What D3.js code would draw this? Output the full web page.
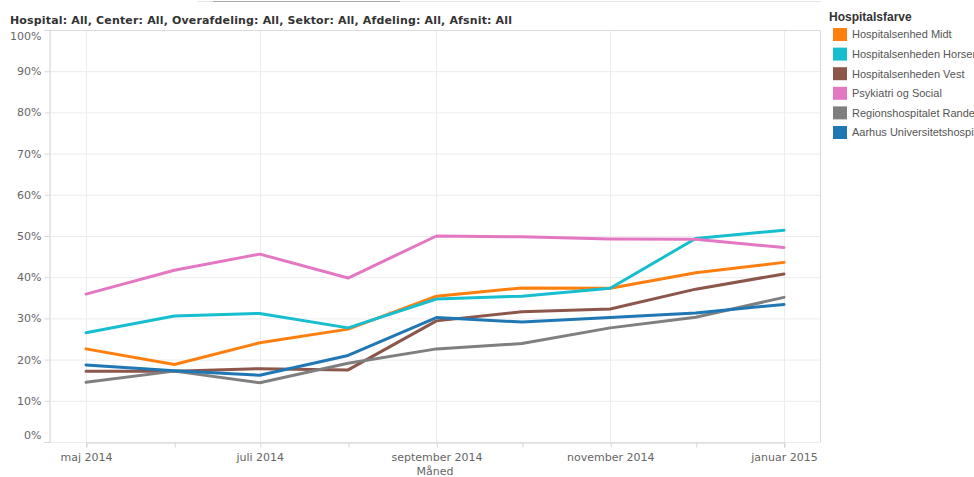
<!DOCTYPE html>
<html>
<head>
<meta charset="utf-8">
<script src="https://cdn.jsdelivr.net/npm/d3@7"></script>
<style>
  body { margin: 0; background: #fff; }
  svg { display: block; }
</style>
</head>
<body>
<div id="chart"></div>
<script>
// months shown on the x axis (first of each month)
var months = ["2014-05-01", "2014-06-01", "2014-07-01", "2014-08-01", "2014-09-01", "2014-10-01", "2014-11-01", "2014-12-01", "2015-01-01"];
var danishMonths = ["januar", "februar", "marts", "april", "maj", "juni", "juli", "august", "september", "oktober", "november", "december"];

var seriesNames = ["Hospitalsenhed Midt", "Hospitalsenheden Horsens", "Hospitalsenheden Vest", "Psykiatri og Social", "Regionshospitalet Randers", "Aarhus Universitetshospital"];
var seriesColors = ["#ff7f0e", "#17becf", "#8c564b", "#e377c2", "#7f7f7f", "#1f77b4"];

// percentages per month
var midt    = [22.6, 18.8, 24.1, 27.4, 35.4, 37.4, 37.3, 41.1, 43.6];
var horsens = [26.5, 30.6, 31.2, 27.7, 34.7, 35.4, 37.3, 49.4, 51.4];
var vest    = [17.2, 17.2, 17.8, 17.5, 29.4, 31.6, 32.3, 37.1, 40.8];
var psyk    = [35.9, 41.7, 45.6, 39.8, 50.0, 49.8, 49.3, 49.2, 47.2];
var randers = [14.5, 17.2, 14.4, 19.1, 22.6, 23.9, 27.7, 30.3, 35.1];
var aarhus  = [18.7, 17.3, 16.2, 21.0, 30.2, 29.1, 30.2, 31.3, 33.4];

var yTicks = [0, 10, 20, 30, 40, 50, 60, 70, 80, 90, 100];

var seriesValues = [midt, horsens, vest, psyk, randers, aarhus];
var parseDate = d3.timeParse("%Y-%m-%d");
var dates = months.map(parseDate);

var W = 974, H = 477;
var margin = {top: 30, left: 49};
var width = 821 - margin.left;
var height = 442 - margin.top;

var svg = d3.select("#chart").append("svg").attr("width", W).attr("height", H);

// faint remnants of the dashboard bar at the very top
svg.append("line").attr("x1", 198).attr("x2", 821).attr("y1", 1.5).attr("y2", 1.5).attr("stroke", "#e4e4e4").attr("stroke-width", 1);
svg.append("line").attr("x1", 213).attr("x2", 400).attr("y1", 1.5).attr("y2", 1.5).attr("stroke", "#aaa").attr("stroke-width", 1);

svg.append("text").attr("x", 10).attr("y", 24)
    .style("font-family", "'DejaVu Sans', sans-serif").style("font-size", "11px").style("font-weight", "bold")
    .attr("fill", "#333").attr("textLength", 502).attr("lengthAdjust", "spacing")
    .text("Hospital: All, Center: All, Overafdeling: All, Sektor: All, Afdeling: All, Afsnit: All");

var x = d3.scaleTime().domain([dates[0], dates[dates.length - 1]]).range([37, 735]);
var y = d3.scaleLinear().domain([0, 100]).range([height, 0]);

var g = svg.append("g").attr("transform", `translate(${margin.left},${margin.top})`);

// horizontal gridlines
g.selectAll(".hgrid").data(yTicks).enter().append("line")
    .attr("x1", 0).attr("x2", width).attr("y1", d => y(d) + 0.5).attr("y2", d => y(d) + 0.5)
    .attr("stroke", "#ececec");

// vertical gridlines at labelled months
g.selectAll(".vgrid").data(dates.filter((d, i) => i % 2 == 0)).enter().append("line")
    .attr("x1", d => Math.round(x(d)) + 0.5).attr("x2", d => Math.round(x(d)) + 0.5).attr("y1", 0).attr("y2", height)
    .attr("stroke", "#ececec");

// pane border top/right
g.append("path").attr("d", `M0,0.5H${width - 0.5}V${height}`).attr("fill", "none").attr("stroke", "#dadada");

var yAxis = g.append("g").attr("transform", "translate(0.5,0)")
    .call(d3.axisLeft(y).tickValues(yTicks).tickSize(5).tickPadding(3).tickFormat(d => d + "%"));
var xAxis = g.append("g").attr("transform", `translate(0,${height + 0.5})`)
    .call(d3.axisBottom(x).tickValues(dates).tickSize(5).tickPadding(6)
        .tickFormat((d, i) => i % 2 == 0 ? danishMonths[d.getMonth()] + " " + d.getFullYear() : ""));

[yAxis, xAxis].forEach(a => {
    a.select(".domain").attr("stroke", "#d0d0d0");
    a.selectAll(".tick line").attr("stroke", "#d8d8d8");
    a.selectAll("text").attr("fill", "#666").style("font-family", "'DejaVu Sans', sans-serif").style("font-size", "11px");
});
xAxis.selectAll(".tick line").attr("transform", "translate(0.5,0)");
// keep end labels inside the pane, like the original
yAxis.selectAll(".tick text").filter(d => d == 100).attr("dy", "0.85em");
yAxis.selectAll(".tick text").filter(d => d == 0).attr("dy", "-0.3em");

g.append("text").attr("x", (x(dates[0]) + x(dates[8])) / 2).attr("y", height + 33).attr("text-anchor", "middle")
    .attr("fill", "#666").style("font-family", "'DejaVu Sans', sans-serif").style("font-size", "11px").text("Måned");

var line = d3.line().x((d, i) => x(dates[i])).y(d => y(d));

g.selectAll(".series").data(seriesValues).enter().append("path").attr("class", "series")
    .attr("d", d => line(d)).attr("fill", "none").attr("stroke", (d, i) => seriesColors[i])
    .attr("stroke-width", 3).attr("stroke-linejoin", "round").attr("stroke-linecap", "round");

// legend
var legend = svg.append("g").attr("transform", "translate(829,0)");
legend.append("text").attr("x", 0).attr("y", 21).attr("fill", "#333")
    .style("font-family", "'Liberation Sans', Arial, sans-serif").style("font-size", "12px").style("font-weight", "bold")
    .text("Hospitalsfarve");

var items = legend.selectAll(".item").data(seriesNames).enter().append("g")
    .attr("transform", (d, i) => `translate(4,${28 + i * 19.6})`);
items.append("rect").attr("width", 14).attr("height", 13).attr("fill", (d, i) => seriesColors[i]);
items.append("text").attr("x", 19).attr("y", 6.5).attr("dy", "0.35em").attr("fill", "#555")
    .style("font-family", "'Liberation Sans', Arial, sans-serif").style("font-size", "11px").text(d => d);
</script>
</body>
</html>
